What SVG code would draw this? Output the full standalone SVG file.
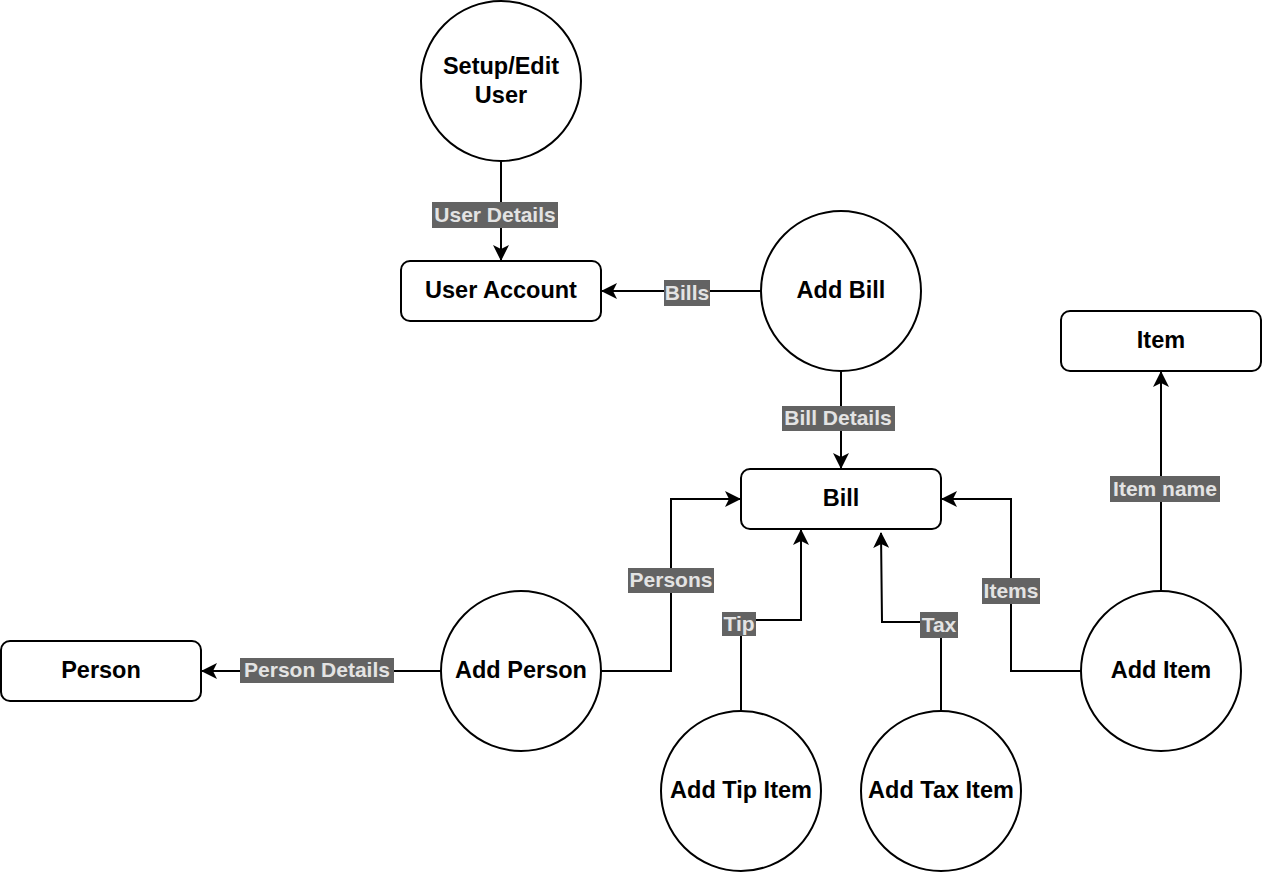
<svg xmlns="http://www.w3.org/2000/svg" width="1262" height="874" viewBox="0 0 1262 874">
<style>
.n{fill:#fff;stroke:#000;stroke-width:2}
.t{font-family:"Liberation Sans",Arial,sans-serif;font-weight:bold;font-size:23.5px;fill:#000;text-anchor:middle}
.e{fill:none;stroke:#000;stroke-width:2}
.lb{fill:#636363}
.lt{font-family:"Liberation Sans",Arial,sans-serif;font-weight:bold;font-size:21px;fill:#e3e3e3;text-anchor:middle}
</style>
<defs>
<marker id="a" viewBox="0 0 16 16" refX="15" refY="8" markerWidth="16" markerHeight="16" markerUnits="userSpaceOnUse" orient="auto">
<path d="M0,0 L16,8 L0,16 L4,8 Z" fill="#000"/>
</marker>
</defs>
<rect width="1262" height="874" fill="#fff"/>
<g id="connectors">
<path class="e" d="M501,161 L501,260" marker-end="url(#a)"/>
<path class="e" d="M761,291 L602,291" marker-end="url(#a)"/>
<path class="e" d="M841,371 L841,468" marker-end="url(#a)"/>
<path class="e" d="M601,671 L671,671 L671,499 L740,499" marker-end="url(#a)"/>
<path class="e" d="M741,711 L741,620 L801,620 L801,530" marker-end="url(#a)"/>
<path class="e" d="M941,711 L941,622 L882,622 L881,533" marker-end="url(#a)"/>
<path class="e" d="M1081,671 L1011,671 L1011,499 L942,499" marker-end="url(#a)"/>
<path class="e" d="M1161,591 L1161,372" marker-end="url(#a)"/>
<path class="e" d="M441,671 L202,671" marker-end="url(#a)"/>
<g id="labels">
<rect class="lb" x="432" y="202" width="126" height="26"/><text class="lt" x="495" y="222">User Details</text>
<rect class="lb" x="664" y="280" width="46" height="26"/><text class="lt" x="687" y="300">Bills</text>
<rect class="lb" x="782" y="406" width="113" height="25"/><text class="lt" x="838" y="425">Bill Details</text>
<rect class="lb" x="628" y="568" width="86" height="25"/><text class="lt" x="671" y="587">Persons</text>
<rect class="lb" x="722" y="612" width="34" height="24"/><text class="lt" x="739" y="631">Tip</text>
<rect class="lb" x="920" y="612" width="38" height="26"/><text class="lt" x="939" y="632">Tax</text>
<rect class="lb" x="982" y="578" width="58" height="26"/><text class="lt" x="1011" y="598">Items</text>
<rect class="lb" x="1110" y="476" width="110" height="26"/><text class="lt" x="1165" y="496">Item name</text>
<rect class="lb" x="240" y="658" width="154" height="25"/><text class="lt" x="317" y="677">Person Details</text>
</g>
</g>
<g id="setup-edit-user"><circle class="n" cx="501" cy="81" r="80"/><text class="t" x="501" y="74">Setup/Edit</text><text class="t" x="501" y="103">User</text></g>
<g id="user-account"><rect class="n" x="401" y="261" width="200" height="60" rx="9"/><text class="t" x="501" y="298">User Account</text></g>
<g id="add-bill"><circle class="n" cx="841" cy="291" r="80"/><text class="t" x="841" y="298">Add Bill</text></g>
<g id="item"><rect class="n" x="1061" y="311" width="200" height="60" rx="9"/><text class="t" x="1161" y="348">Item</text></g>
<g id="bill"><rect class="n" x="741" y="469" width="200" height="60" rx="9"/><text class="t" x="841" y="506">Bill</text></g>
<g id="add-person"><circle class="n" cx="521" cy="671" r="80"/><text class="t" x="521" y="678">Add Person</text></g>
<g id="person"><rect class="n" x="1" y="641" width="200" height="60" rx="9"/><text class="t" x="101" y="678">Person</text></g>
<g id="add-tip-item"><circle class="n" cx="741" cy="791" r="80"/><text class="t" x="741" y="798">Add Tip Item</text></g>
<g id="add-tax-item"><circle class="n" cx="941" cy="791" r="80"/><text class="t" x="941" y="798">Add Tax Item</text></g>
<g id="add-item"><circle class="n" cx="1161" cy="671" r="80"/><text class="t" x="1161" y="678">Add Item</text></g>
</svg>
